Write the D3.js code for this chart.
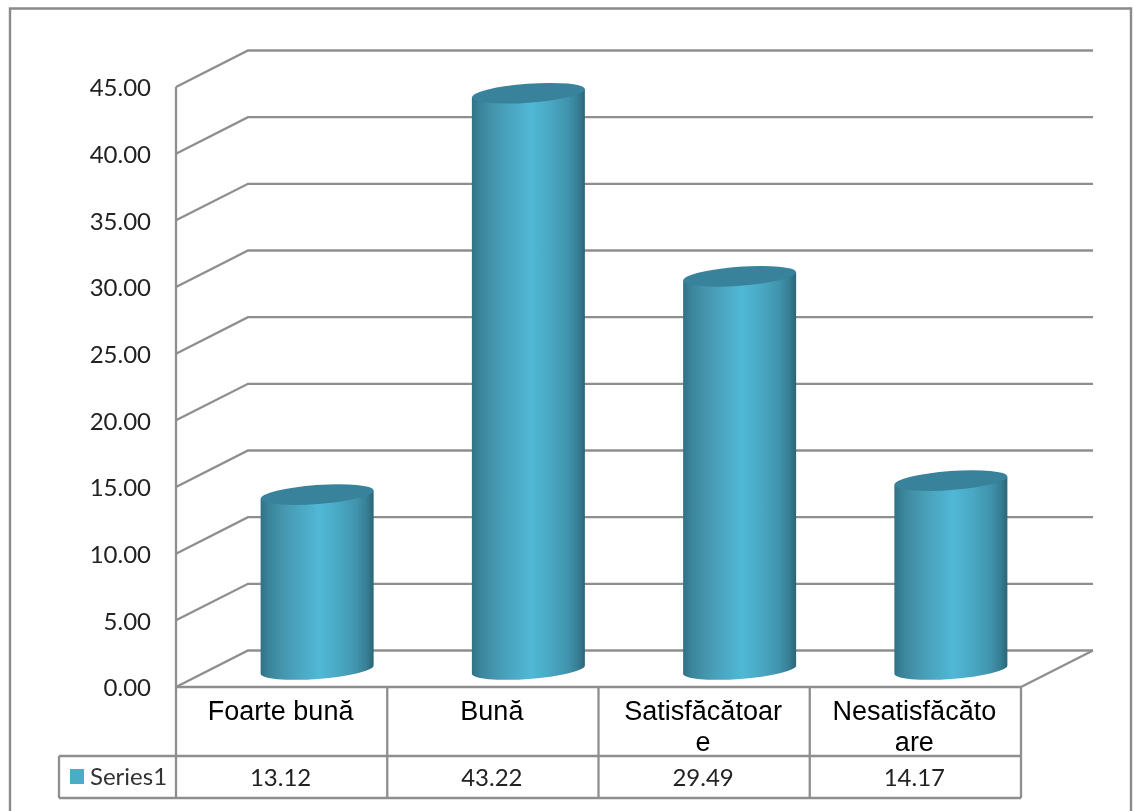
<!DOCTYPE html>
<html><head><meta charset="utf-8">
<script src="https://cdnjs.cloudflare.com/ajax/libs/d3/7.8.5/d3.min.js"></script>
<style>html,body{margin:0;padding:0;background:#fff;overflow:hidden}svg{display:block}</style>
</head><body><svg id="c" width="1134" height="811"></svg>
<script>
const categories = ["Foarte bună", "Bună", "Satisfăcătoare", "Nesatisfăcătoare"];
const categoryLines = [["Foarte bună"], ["Bună"], ["Satisfăcătoar", "e"], ["Nesatisfăcăto", "are"]];
const series1 = [13.12, 43.22, 29.49, 14.17];
const seriesName = "Series1";
const yTicks = [0, 5, 10, 15, 20, 25, 30, 35, 40, 45];

const grid = "#8e8e8e";
const svg = d3.select("#c");
const root = svg.append("g").style("filter", "blur(0.45px)");

const frontX = 176, frontRight = 1022, depthX = 72, depthY = 36.5;
const y = d3.scaleLinear().domain([0, 45]).range([687, 87]);
const x = d3.scaleBand().domain(categories).range([frontX, frontRight - 1]);

// gradient
const defs = svg.append("defs");
const g = defs.append("linearGradient").attr("id", "cyl");
[[0, "#2f7285"], [0.07, "#3a8499"], [0.2, "#4596ae"], [0.35, "#4aa7c2"], [0.52, "#50b8d6"], [0.68, "#4aa9c5"], [0.85, "#4193ac"], [0.94, "#367e94"], [1, "#2b6576"]]
  .forEach(([o, c]) => g.append("stop").attr("offset", o).attr("stop-color", c));

// chart border
root.append("path").attr("d", "M10,812V8.5H1131V812").attr("fill", "none").attr("stroke", "#8a8a8a").attr("stroke-width", 2.4);

// back-wall gridlines and side-wall lines
const gridG = root.append("g").attr("fill", "none").attr("stroke", grid).attr("stroke-width", 2.3);
gridG.selectAll("path").data(yTicks).join("path")
  .attr("d", v => `M${frontX},${y(v)}L${frontX + depthX},${y(v) - depthY}H${frontRight + depthX - 1}`);
// floor right edge + front edge
gridG.append("path").attr("d", `M${frontRight - 1},${y(0)}L${frontRight + depthX - 1},${y(0) - depthY}`);
gridG.append("path").attr("d", `M${frontX},${y(45)}V${y(0)}`);

// data table
const rowTop = y(0), rowMid = 756, rowBot = 798, legendLeft = 59;
const t = root.append("g").attr("fill", "none").attr("stroke", grid).attr("stroke-width", 2.3);
t.append("path").attr("d", `M${frontX},${rowTop}H${frontRight - 1}M${legendLeft},${rowMid}H${frontRight - 1}M${legendLeft},${rowBot}H${frontRight - 1}M${legendLeft},${rowMid}V${rowBot}M${frontX},${rowTop}V${rowBot}`);
t.selectAll("line").data(categories).join("line")
  .attr("x1", d => x(d) + x.bandwidth()).attr("x2", d => x(d) + x.bandwidth())
  .attr("y1", rowTop).attr("y2", rowBot);

// cylinders
const barW = 113, ry = 9.5, tilt = -4.2, axisShift = -17.5;
const cyl = root.append("g").selectAll("g").data(categories).join("g");
const cx = d => x(d) + x.bandwidth() / 2 + depthX / 2 - 0.5;
const val = i => series1[i];
cyl.append("path").attr("fill", "url(#cyl)")
  .attr("d", (d, i) => {
    const c = cx(d), rx = barW / 2, dy = rx * Math.sin(tilt * Math.PI / 180);
    const top = y(val(i)) + axisShift, bot = y(0) + axisShift;
    return `M${c - rx},${top - dy}L${c - rx},${bot - dy}A${rx},${ry} ${tilt} 0 0 ${c + rx},${bot + dy}L${c + rx},${top + dy}Z`;
  });
cyl.append("ellipse").attr("fill", "#38839b")
  .attr("rx", barW / 2).attr("ry", ry)
  .attr("transform", (d, i) => `translate(${cx(d)},${y(val(i)) + axisShift}) rotate(${tilt})`);

// y axis labels
const axis = root.append("g").attr("transform", `translate(${frontX - 25},0)`)
  .call(d3.axisLeft(y).tickValues(yTicks).tickFormat(d3.format(".2f")).tickSize(0).tickPadding(0));
axis.select(".domain").remove();
axis.selectAll("text").attr("font-family", "Lato").attr("font-size", 24).attr("fill", "#222").attr("dy", "0.37em");

// category labels
const lab = root.append("g").attr("font-family", "Liberation Sans").attr("font-size", 27).attr("fill", "#000").attr("text-anchor", "middle");
lab.selectAll("g").data(categories).join("g").each(function (d, i) {
  categoryLines[i].forEach((l, j) => d3.select(this).append("text")
    .attr("x", x(d) + x.bandwidth() / 2 - 1).attr("y", 720 + j * 31).text(l));
});

// values row
const vals = root.append("g").attr("font-family", "Lato").attr("font-size", 24).attr("fill", "#222").attr("text-anchor", "middle");
vals.selectAll("text").data(categories).join("text")
  .attr("x", d => x(d) + x.bandwidth() / 2 - 1).attr("y", 786)
  .text((d, i) => d3.format(".2f")(series1[i]));

// legend key
root.append("rect").attr("x", 70).attr("y", 769).attr("width", 14).attr("height", 15).attr("fill", "#4bacc6");
root.append("text").attr("x", 90).attr("y", 785).attr("font-family", "Lato").attr("font-size", 24).attr("fill", "#333").text(seriesName);
</script></body></html>
